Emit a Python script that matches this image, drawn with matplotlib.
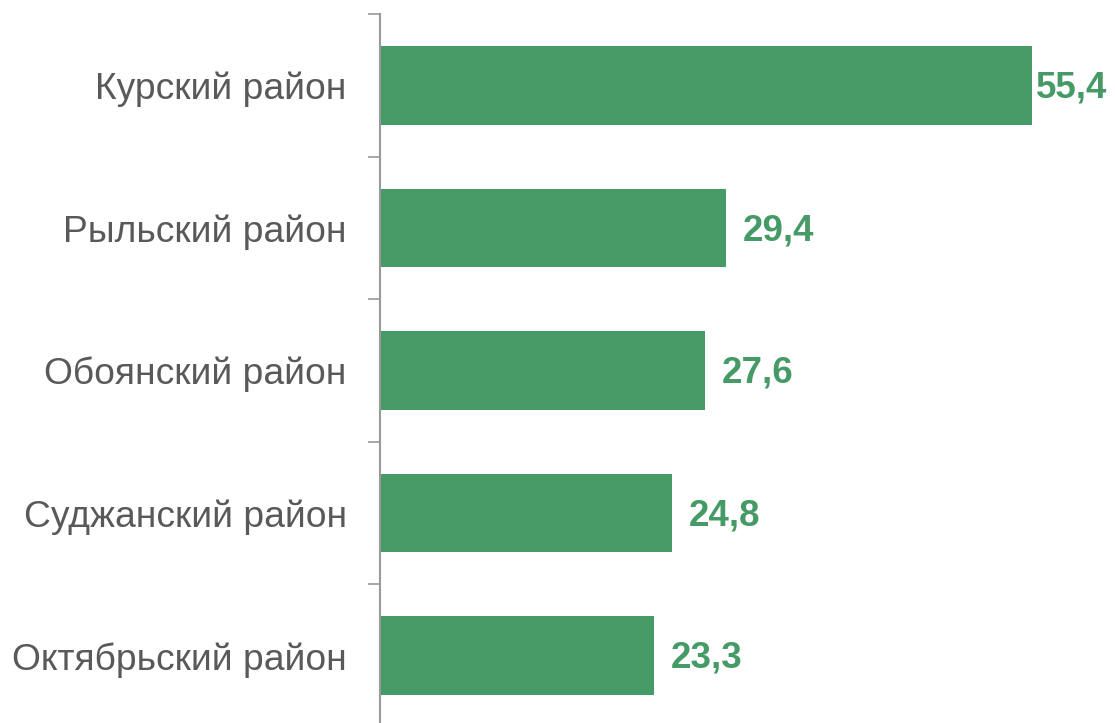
import matplotlib
matplotlib.use('Agg')
from matplotlib import pyplot as plt

districts = ['Курский район', 'Рыльский район', 'Обоянский район',
             'Суджанский район', 'Октябрьский район']
values = [55.4, 29.4, 27.6, 24.8, 23.3]
value_labels = ['55,4', '29,4', '27,6', '24,8', '23,3']

green = '#469A66'
gray_text = '#595959'
axis_gray = '#999999'

plt.rcParams['font.family'] = ['Liberation Sans', 'DejaVu Sans']

fig = plt.figure(figsize=(11.15, 7.23), dpi=100)
ax = fig.add_axes([380 / 1115, 1 - 727 / 723, 62 * 11.77 / 1115, 713 / 723])

pos = list(range(len(districts)))
ax.barh(pos, values, height=0.55, color=green)
ax.set_ylim(len(districts) - 0.5, -0.5)
ax.set_xlim(0, 62)

for p, v, lab in zip(pos, values, value_labels):
    # the longest bar leaves little room, so its label hugs the bar
    off = 3 if v > 50 else 12
    ax.annotate(lab, (v, p), xytext=(off, -2), textcoords='offset points',
                color=green, fontsize=26.5, fontweight='bold',
                va='center', ha='left')

# category boundaries get the tick marks, names sit between them
ax.set_yticks([p - 0.5 for p in pos] + [len(pos) - 0.5])
ax.set_yticklabels([])
ax.set_yticks(pos, minor=True)
ax.set_yticklabels(districts, minor=True, fontsize=26.8, color=gray_text)
ax.tick_params(axis='y', which='major', length=9, color=axis_gray, width=1.2)
ax.tick_params(axis='y', which='minor', length=0, pad=24)

ax.set_xticks([])
for s in ['top', 'right', 'bottom']:
    ax.spines[s].set_visible(False)
ax.spines['left'].set_color(axis_gray)
ax.spines['left'].set_linewidth(1.5)

fig.savefig('out.png', dpi=100)
